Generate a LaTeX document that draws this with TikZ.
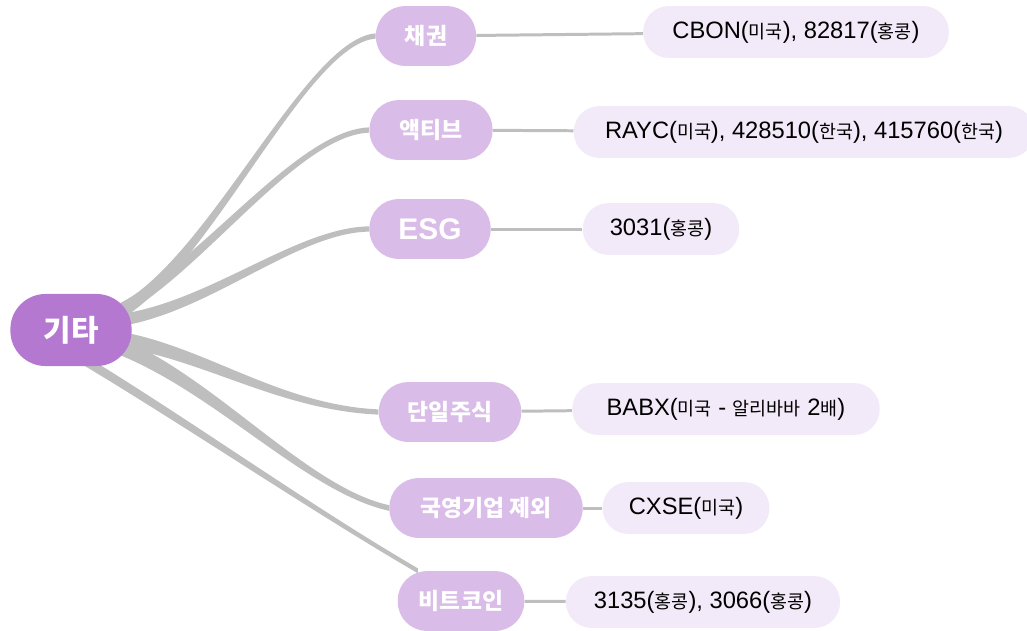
\documentclass[tikz,border=0pt]{standalone}
\usepackage{fontspec}
\setmainfont{Liberation Sans}
\newfontfamily\krfont{Noto Sans CJK KR}
\newcommand{\kor}[1]{{\krfont\fontsize{10.5}{12}\selectfont #1}}
\usetikzlibrary{backgrounds}
\definecolor{rootpurple}{HTML}{B478D0}
\definecolor{branchlilac}{HTML}{D9BCE7}
\definecolor{leaflilac}{HTML}{F2EAF8}
\definecolor{linkgray}{HTML}{BEBEBE}
\tikzset{
    rootnode/.style={fill=rootpurple, text=white, rounded corners=20pt, minimum height=41pt,
        font=\krfont\bfseries\fontsize{17}{19}\selectfont},
    branch/.style={fill=branchlilac, text=white, rounded corners=16.5pt, minimum height=34pt,
        font=\krfont\bfseries\fontsize{13}{15}\selectfont},
    leaf/.style={fill=leaflilac, text=black, rounded corners=14.5pt, minimum height=29.5pt,
        font=\fontsize{13.5}{16}\selectfont},
    link/.style={draw=linkgray, line width=1.7pt},
    taper/.style={fill=linkgray}
}

\begin{document}
\begin{tikzpicture}[x=0.02cm, y=-0.02cm]
\useasboundingbox (0,0) rectangle (1027,630);

\node[rootnode, minimum width=69pt] (r) at (71,330) {기타};

\node[branch, minimum width=57pt] (b1) at (426,36) {채권};
\node[branch, minimum width=70pt] (b2) at (431,130) {액티브};
\node[branch, minimum width=69pt, font=\bfseries\fontsize{17}{19}\selectfont] (b3) at (430,229) {ESG};
\node[branch, minimum width=81pt] (b4) at (450,412) {단일주식};
\node[branch, minimum width=110pt] (b5) at (486,508) {국영기업 제외};
\node[branch, minimum width=72pt] (b6) at (461,601) {비트코인};

\node[leaf, minimum width=174pt] (l1) at (796,32) {CBON(\kor{미국}), 82817(\kor{홍콩})};
\node[leaf, minimum width=262pt] (l2) at (804,132) {RAYC(\kor{미국}), 428510(\kor{한국}), 415760(\kor{한국})};
\node[leaf, minimum width=89pt] (l3) at (661,229) {3031(\kor{홍콩})};
\node[leaf, minimum width=175pt] (l4) at (726,409) {BABX(\kor{미국} - \kor{알리바바} 2\kor{배})};
\node[leaf, minimum width=95pt] (l5) at (686,508) {CXSE(\kor{미국})};
\node[leaf, minimum width=156pt] (l6) at (703,602) {3135(\kor{홍콩}), 3066(\kor{홍콩})};

\coordinate (hu) at (90,322);
\coordinate (hl) at (90,336);
\coordinate (hb) at (50,340);

\begin{scope}[on background layer]
\fill[taper] ([yshift=4.5pt]hu) .. controls +(100,-10) and +(-77,6) .. ([yshift=1.5pt]b1.west)
    -- ([yshift=-1.5pt]b1.west) .. controls +(-77,6) and +(100,-10) .. ([yshift=-4.5pt]hu) -- cycle;
\fill[taper] ([yshift=4pt]hu) .. controls +(90,-22) and +(-80,3) .. ([yshift=1.5pt]b2.west)
    -- ([yshift=-1.5pt]b2.west) .. controls +(-80,3) and +(90,-22) .. ([yshift=-4pt]hu) -- cycle;
\fill[taper] ([yshift=3.5pt]hu) .. controls +(100,3) and +(-80,1) .. ([yshift=1.5pt]b3.west)
    -- ([yshift=-1.5pt]b3.west) .. controls +(-80,1) and +(100,3) .. ([yshift=-3.5pt]hu) -- cycle;
\fill[taper] ([yshift=4.5pt]hl) .. controls +(100,5) and +(-110,-5) .. ([yshift=1.5pt]b4.west)
    -- ([yshift=-1.5pt]b4.west) .. controls +(-110,-5) and +(100,5) .. ([yshift=-4.5pt]hl) -- cycle;
\fill[taper] ([yshift=5pt]hl) .. controls +(110,30) and +(-90,-20) .. ([yshift=1.6pt]b5.west)
    -- ([yshift=-1.6pt]b5.west) .. controls +(-90,-20) and +(110,30) .. ([yshift=-5pt]hl) -- cycle;
\fill[taper] ([yshift=3pt]hb) .. controls +(120,70) and +(-120,-70) .. ([yshift=1.4pt]b6.145)
    -- ([yshift=-1.4pt]b6.145) .. controls +(-120,-70) and +(120,70) .. ([yshift=-3pt]hb) -- cycle;
\end{scope}

\draw[link] (b1) -- (l1);
\draw[link] (b2) -- (l2);
\draw[link] (b3) -- (l3);
\draw[link] (b4) -- (l4);
\draw[link] (b5) -- (l5);
\draw[link] (b6) -- (l6);

\end{tikzpicture}
\end{document}
